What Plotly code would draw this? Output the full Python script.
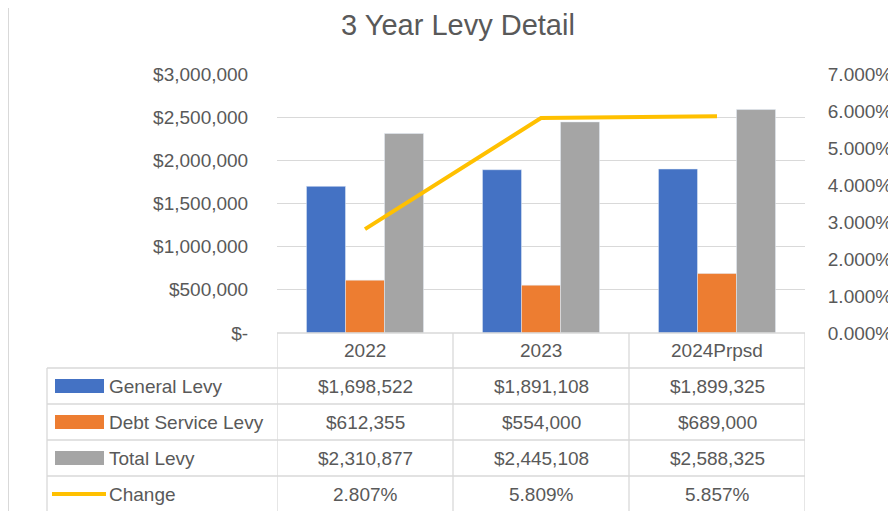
import plotly.graph_objects as go

# data
years = ["2022", "2023", "2024Prpsd"]
general_levy = [1698522, 1891108, 1899325]
debt_service_levy = [612355, 554000, 689000]
total_levy = [2310877, 2445108, 2588325]
change = [0.02807, 0.05809, 0.05857]

y_ticks = [0, 500000, 1000000, 1500000, 2000000, 2500000, 3000000]
y_ticktext = ["$-", "$500,000", "$1,000,000", "$1,500,000", "$2,000,000", "$2,500,000", "$3,000,000"]

# the page body keeps its default 8px margin, so the figure is drawn 8px in
OFF = 8
W, H = 896 - OFF, 511 - OFF
TXT = "#595959"
GRID = "#D9D9D9"
FONT = "Liberation Sans"
FS = 19

BLUE, ORANGE, GRAY, GOLD = "#4472C4", "#ED7D31", "#A5A5A5", "#FFC000"


def py(y):
    # screen pixel row -> paper fraction
    return (H - (y - OFF)) / H


def px_(x):
    return (x - OFF) / W


fig = go.Figure()
fig.add_trace(go.Bar(x=years, y=general_levy, name="General Levy", marker_color=BLUE))
fig.add_trace(go.Bar(x=years, y=debt_service_levy, name="Debt Service Levy", marker_color=ORANGE))
fig.add_trace(go.Bar(x=years, y=total_levy, name="Total Levy", marker_color=GRAY))
fig.add_trace(go.Scatter(x=years, y=change, name="Change", yaxis="y2", mode="lines",
                         line=dict(color=GOLD, width=4)))

plot_left, plot_right, plot_top, plot_bottom = 277, 805, 74, 333

shapes = []
# chart area border on the left
shapes.append(dict(type="line", xref="paper", yref="paper", x0=px_(8.5), x1=px_(8.5), y0=0, y1=1,
                   line=dict(color=GRID, width=1)))
# data table grid
row_lines = [333, 368, 404, 440, 476, 512]
for i, yl in enumerate(row_lines):
    x0 = plot_left if i == 0 else 47
    shapes.append(dict(type="line", xref="paper", yref="paper", x0=px_(x0), x1=px_(plot_right),
                       y0=py(yl), y1=py(yl), line=dict(color=GRID, width=1.3)))
shapes.append(dict(type="line", xref="paper", yref="paper", x0=px_(47), x1=px_(47),
                   y0=py(368), y1=py(512), line=dict(color=GRID, width=1.3)))
for xb in [-0.5, 0.5, 1.5, 2.5]:
    shapes.append(dict(type="line", xref="x", yref="paper", x0=xb, x1=xb,
                       y0=py(333), y1=py(512), line=dict(color=GRID, width=1.3)))

annotations = []
row_y = [386, 422, 458, 494]
labels = ["General Levy", "Debt Service Levy", "Total Levy", "Change"]
keys = [BLUE, ORANGE, GRAY, None]
rows = [
    [f"${v:,}" for v in general_levy],
    [f"${v:,}" for v in debt_service_levy],
    [f"${v:,}" for v in total_levy],
    [f"{v * 100:.3f}%" for v in change],
]

for i, yr in enumerate(years):
    annotations.append(dict(x=i, xref="x", y=py(350), yref="paper", text=yr, showarrow=False,
                            yanchor="middle", font=dict(size=FS, color=TXT, family=FONT)))

for r, (lab, key, vals) in enumerate(zip(labels, keys, rows)):
    yc = row_y[r]
    if key:
        shapes.append(dict(type="rect", xref="paper", yref="paper", x0=px_(55), x1=px_(104),
                           y0=py(yc - 7), y1=py(yc + 7), fillcolor=key, line=dict(width=0)))
    else:
        shapes.append(dict(type="line", xref="paper", yref="paper", x0=px_(52), x1=px_(106),
                           y0=py(yc), y1=py(yc), line=dict(color=GOLD, width=4)))
    annotations.append(dict(x=px_(107), xref="paper", y=py(yc), yref="paper", text=lab,
                            showarrow=False, xanchor="left", yanchor="middle",
                            font=dict(size=FS, color=TXT, family=FONT)))
    for i, v in enumerate(vals):
        annotations.append(dict(x=i, xref="x", y=py(yc), yref="paper", text=v, showarrow=False,
                                yanchor="middle", font=dict(size=FS, color=TXT, family=FONT)))

fig.update_layout(
    width=W, height=H,
    margin=dict(l=0, r=0, t=0, b=0, autoexpand=False),
    paper_bgcolor="white", plot_bgcolor="white",
    title=dict(text="3 Year Levy Detail", x=px_(458), xanchor="center", y=py(25), yanchor="middle",
               font=dict(size=29, color=TXT, family=FONT)),
    showlegend=False,
    barmode="group", bargap=0.335, bargroupgap=0,
    font=dict(family=FONT, color=TXT, size=FS),
    xaxis=dict(domain=[px_(plot_left), px_(plot_right)], range=[-0.5, 2.5], automargin=False,
               showticklabels=False, showgrid=False, zeroline=False, showline=False, fixedrange=True),
    yaxis=dict(domain=[py(plot_bottom), py(plot_top)], range=[0, 3000000], automargin=False,
               tickvals=y_ticks, ticktext=y_ticktext, showgrid=True, gridcolor=GRID, gridwidth=1.3,
               zeroline=False, showline=False, ticks="outside", ticklen=24,
               tickcolor="rgba(0,0,0,0)", tickfont=dict(size=FS, color=TXT)),
    yaxis2=dict(overlaying="y", side="right", range=[0, 0.07], dtick=0.01, tickformat=".3%",
                automargin=False, showgrid=False, zeroline=False, showline=False, ticks="outside",
                ticklen=18, tickcolor="rgba(0,0,0,0)", tickfont=dict(size=FS, color=TXT)),
    shapes=shapes,
    annotations=annotations,
)

fig.write_html("out.html")
